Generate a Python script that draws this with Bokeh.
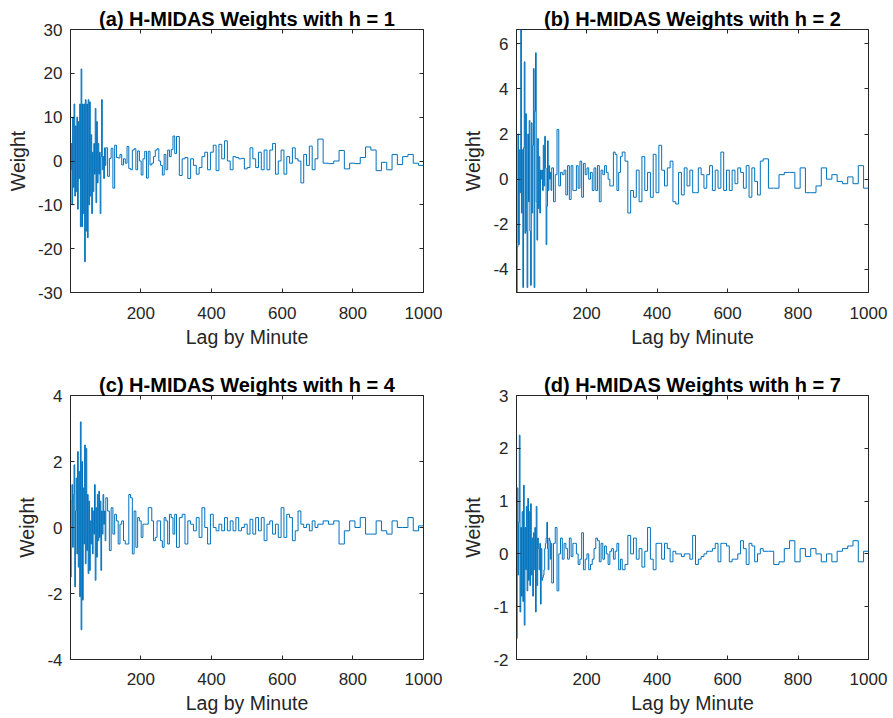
from bokeh.plotting import figure
from bokeh.models import Range1d, FixedTicker, LinearAxis
from bokeh.layouts import column, row
from bokeh.embed import file_html
from bokeh.resources import INLINE

# Lag groups (minutes): 1-100, 101-300, 301-700, 701-1000
lag_bounds = [1, 101, 301, 701, 1001]
x_ticks = [200, 400, 600, 800, 1000]

# ---- (a) h = 1 ----
a_g1 = [-2, 4, -10, 10, -6, 13, -8, 8, -7, 10, -11, 9, -4, 13, -15, 21, -15, 13, -12, 13,
        -23, 14, -16, 13, -17.5, 14, -10, 13.5, -8, 6, -12, 2, -7, 4, -3, 12, -9.5, 9, -5, 4,
        -3, 2, -12, 1, 14, -2, 1, -4, 3, -1]
a_g2 = [3, -3.5, 0.6, 2.9, -6.2, 3.6, 0.8, 0.7, 1.5, -0.9, 0.5, -0.5, 3.3, -1.7, -2, 2.5, 2.8, -2, 2.3, 0,
        -3.2, 0.5, 2.2, -3.9, 2.2, -0.9, -0.5, 1, 2.5, 2.8, 0, -1, -3.2, 1.5, -2, 2.5, 1, 2.6, 5.7, 1.7]
a_g3 = [5.6, -3.3, 0.5, 0.8, -4, 0.5, -1, -3, -1.5, 1, 2, -2, 2, 3.6, -2.2, 3.8, 0.5, 4.6, 0, -2,
        1, 0.8, 0.5, 0.6, -1.8, -1.5, 3, 0.5, -1.5, 2, -2, 2.5, -2, 2.5, 4, -3, 0, 2.5, -3, 1,
        -0.5, 3, 0.5, 0, -5, 1.5, -1, 3.4, -2, 0.5]
a_g4 = [5, -0.5, -0.6, 0, 2.4, -1.8, -0.5, -0.6, 0.8, 3.2, 2.5, -2.2, -0.3, -2, 1.5, -0.8, 1, 1.5, -0.5, -1]
a_yticks = [-30, -20, -10, 0, 10, 20, 30]

# ---- (b) h = 2 ----
b_g1 = [-5.02, -3, 2, -2.9, 1.3, -0.6, 6.63, -1.5, 1.3, -4.8, 1.4, 5.2, -2.4, 2.9, -2.3, -4.8, 2, -1, 2.6, -2.3,
        -4.7, 2.5, -1.5, 1.5, 4.9, -4.8, 3, 5.6, -1, -2.7, 1.8, -1.3, 1, -1.5, 0.4, 0, 0.4, -0.5, 1.5, -0.3,
        1.9, 0.5, -2.9, -1.2, 1.7, -0.5, 0.6, 0, 0.3, -0.5]
b_g2 = [0.5, -1, 0.2, 2.2, -0.3, 0.3, 0.2, 0.4, -0.7, 0.6, -0.9, 0.6, -0.5, -0.5, 0.6, -0.4, 0.8, -0.8, 0.7, 0.2,
        0.5, 0, 0.3, -0.5, 0.5, -0.5, 0.6, -1, 0.4, 0.2, 0.6, 0.3, 0, -0.3, -0.3, 1.2, 1.1, -0.5, 0.3, 1]
b_g3 = [1.2, 0.8, -1.5, -0.5, -0.8, 0.4, -1, 1.0, -0.5, 0.3, -0.8, 1.1, -0.6, 1.5, 0.4, -0.3, 0.5, 0.8, -1.0, -1.1,
        0.3, -0.7, 0.5, -0.3, 0.4, -0.6, -0.6, 0.5, 0.2, -0.4, 0.2, 0.6, -0.5, 0.4, -0.4, 1.2, -0.5, 0.4, -0.5, 0.4,
        -0.2, 0.5, 0.3, -0.4, 0.6, -0.8, 0.5, -0.1, -0.7, 0.8]
b_g4 = [0.9, -0.4, -0.4, 0.2, 0.3, 0.3, -0.4, 0.5, -0.6, -0.6, -0.3, 0.5, 0, 0.2, -0.1, -0.2, 0.1, -0.2, 0.6, -0.4]
b_yticks = [-4, -2, 0, 2, 4, 6]

# ---- (c) h = 4 ----
c_g1 = [-1.5, 0.8, 1.3, -0.6, 1.0, 1.9, -1.8, 0.5, 1.5, -0.8, 2.3, -1.2, 1.7, -2.1, 3.2, -3.1, 2.0, -2.2, 1.2, -0.5,
        2.5, -1.1, 2.4, -0.7, 1.0, -1.4, 0.8, -1.3, 0.2, -0.5, 0.6, -0.8, 0.5, -0.2, 1.3, -1.6, 0.6, -0.9, 1.0, -0.4,
        1.1, -0.3, 0.8, -1.3, 0.5, -0.2, 1.0, 0.1, 0.5, -0.4]
c_g2 = [0.9, 0.5, -0.7, 0.6, -0.2, 0.4, 0.2, -0.5, 0.1, 0.2, -0.4, -0.5, -0.5, 1.0, 0.9, -0.8, 0.5, -0.6, 0.3, 0.2,
        -0.3, 0.1, 0.1, 0.1, 0.6, 0.6, 0.2, -0.4, -0.3, 0.2, 0.2, -0.4, -0.6, 0.3, 0.2, -0.5, 0.4, 0.3, -0.2, 0.4]
c_g3 = [-0.6, 0.3, 0.4, -0.5, 0.2, 0.1, -0.1, 0.3, -0.3, 0.6, 0.0, -0.5, 0.4, 0.0, -0.1, 0.1, -0.1, 0.3, -0.1, 0.2,
        -0.1, 0.3, -0.1, 0.0, 0.1, -0.2, 0.25, -0.2, 0.3, -0.1, 0.3, -0.4, 0.1, 0.2, -0.2, 0.1, -0.3, 0.6, -0.3, 0.4,
        0.3, -0.4, -0.1, 0.5, 0.1, 0.0, 0.1, -0.1, 0.2, 0.0]
c_g4 = [0.1, 0.2, 0.1, 0.2, -0.5, -0.1, 0.2, 0.0, 0.3, -0.2, -0.2, 0.2, -0.1, -0.2, 0.2, 0.0, 0.0, 0.3, -0.1, 0.05]
c_yticks = [-4, -2, 0, 2, 4]

# ---- (d) h = 7 ----
d_g1 = [-1.6, 1.25, -0.4, 0.6, 2.25, -1.1, 0.5, -0.8, 0.8, -0.9, 1.3, -1.35, 0.5, -0.3, 0.9, -0.7, 1.05, -0.5, 0.8, -0.6,
        0.95, -0.4, 0.3, -0.8, 0.4, -0.3, 0.5, -1.1, 0.9, -0.6, 0.3, 0.1, -0.3, 0.2, -0.95, 0.1, -0.5, -0.45, -0.4, -0.3,
        0.1, 0.2, 0.3, 0.6, 0.1, -0.3, 0.3, 0.25, -0.1, 0.2]
d_g2 = [-0.55, 0.2, 0.5, -0.7, 0.0, 0.3, -0.1, 0.2, 0.1, -0.1, 0.3, -0.05, 0.2, 0.2, 0.0, -0.2, -0.1, 0.4, -0.3, -0.1,
        0.0, -0.3, -0.2, -0.1, 0.1, 0.3, 0.25, -0.15, 0.2, -0.1, 0.15, 0.0, -0.2, 0.05, 0.1, -0.1, 0.05, 0.2, -0.3, -0.1]
d_g3 = [-0.3, -0.2, 0.35, 0.0, 0.3, -0.1, 0.1, -0.25, 0.05, 0.5, -0.1, -0.3, 0.2, 0.2, -0.1, 0.2, 0.1, -0.15, 0.05, 0.0,
        0.0, -0.05, 0.0, 0.0, -0.1, 0.35, -0.2, -0.1, -0.05, 0.0, 0.05, 0.05, 0.1, 0.2, -0.15, 0.2, 0.2, 0.15, -0.15, -0.1,
        -0.1, 0.0, 0.25, 0.1, -0.2, 0.2, 0.15, -0.15, 0.0, 0.1]
d_g4 = [0.05, 0.05, -0.2, -0.15, 0.1, 0.25, -0.15, 0.1, -0.05, 0.1, 0.0, -0.15, 0.0, -0.15, 0.05, 0.1, 0.15, 0.25, -0.15, 0.05]
d_yticks = [-2, -1, 0, 1, 2, 3]

FONT = "Liberation Sans"
TXT = "#262626"
LINE = "#0072BD"


def build_steps(groups):
    xs, ys = [], []
    for i, vals in enumerate(groups):
        lo, hi = lag_bounds[i], lag_bounds[i + 1]
        w = (hi - lo) / len(vals)
        for k, v in enumerate(vals):
            xs.append(lo + k * w)
            ys.append(v)
    xs.append(lag_bounds[-1])
    ys.append(ys[-1])
    return xs, ys


def panel(title, groups, yticks, ylo, yhi, width, height, bl, br, bt, bb, tick_standoff, xlab_standoff):
    p = figure(width=width, height=height, output_backend="svg", toolbar_location=None,
               x_range=Range1d(1, 1000), y_range=Range1d(ylo, yhi),
               min_border_left=bl, min_border_right=br, min_border_top=bt, min_border_bottom=bb,
               x_axis_label="Lag by Minute", y_axis_label="Weight")
    xs, ys = build_steps(groups)
    p.step(xs, ys, mode="after", line_color=LINE, line_width=1)

    p.title.text = title
    p.title.align = "center"
    p.title.text_font = FONT
    p.title.text_font_size = "20px"
    p.title.text_font_style = "bold"
    p.title.text_color = "#000000"
    p.title.standoff = 0

    p.xgrid.visible = False
    p.ygrid.visible = False
    p.outline_line_color = TXT
    p.outline_line_width = 1
    p.background_fill_color = "white"
    p.border_fill_color = "white"

    for ax, ticks in ((p.xaxis[0], x_ticks), (p.yaxis[0], yticks)):
        ax.ticker = FixedTicker(ticks=ticks)
        ax.major_label_overrides = {t: str(t) for t in ticks}
        ax.major_tick_in = 4
        ax.major_tick_out = 0
        ax.minor_tick_line_color = None
        ax.axis_line_color = TXT
        ax.major_tick_line_color = TXT
        ax.major_label_text_font = FONT
        ax.major_label_text_font_size = "17px"
        ax.major_label_text_color = TXT
        ax.axis_label_text_font = FONT
        ax.axis_label_text_font_size = "19.5px"
        ax.axis_label_text_font_style = "normal"
        ax.axis_label_text_color = TXT
    p.xaxis[0].major_label_standoff = tick_standoff
    p.xaxis[0].axis_label_standoff = xlab_standoff
    p.yaxis[0].major_label_standoff = 8
    p.yaxis[0].axis_label_standoff = 6

    for loc, ticks in (("above", x_ticks), ("right", yticks)):
        ax = LinearAxis(ticker=FixedTicker(ticks=ticks), major_label_text_font_size="0px",
                        major_tick_in=4, major_tick_out=0, major_label_standoff=0,
                        minor_tick_line_color=None, axis_line_color=None,
                        major_tick_line_color=TXT)
        ax.major_label_overrides = {t: "" for t in ticks}
        p.add_layout(ax, loc)
    return p


b_all = b_g1 + b_g2 + b_g3 + b_g4

pa = panel("(a) H-MIDAS Weights with h = 1", [a_g1, a_g2, a_g3, a_g4], a_yticks, -30, 30,
           454, 366, 70, 31, 29, 73, 14, 4)
pb = panel("(b) H-MIDAS Weights with h = 2", [b_g1, b_g2, b_g3, b_g4], b_yticks, min(b_all), max(b_all),
           439, 366, 62, 25, 29, 74, 14, 4)
pc = panel("(c) H-MIDAS Weights with h = 4", [c_g1, c_g2, c_g3, c_g4], c_yticks, -4, 4,
           454, 351, 70, 31, 29, 58, 13, 4)
pd = panel("(d) H-MIDAS Weights with h = 7", [d_g1, d_g2, d_g3, d_g4], d_yticks, -2, 3,
           439, 351, 62, 25, 29, 58, 13, 4)

layout = column(row(pa, pb), row(pc, pd))
open("out.html", "w").write(file_html(layout, INLINE))
